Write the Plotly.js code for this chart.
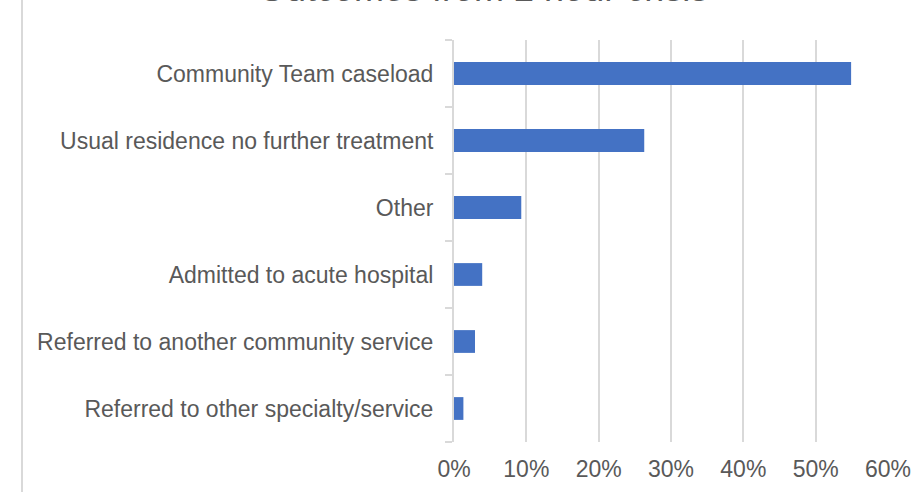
<!DOCTYPE html>
<html>
<head>
<meta charset="utf-8">
<script src="https://cdn.plot.ly/plotly-3.0.1.min.js"></script>
<style>html,body{margin:0;padding:0;background:#fff;}#chart{width:917px;height:492px;}</style>
</head>
<body>
<div id="chart"></div>
<script>
const chartTitle = "Outcomes from 2 hour crisis";
const categories = [
  "Referred to other specialty/service",
  "Referred to another community service",
  "Admitted to acute hospital",
  "Other",
  "Usual residence no further treatment",
  "Community Team caseload"
];
const shares = [0.013, 0.029, 0.039, 0.093, 0.263, 0.549];
const xTickValues = [0, 0.1, 0.2, 0.3, 0.4, 0.5, 0.6];
const xTickLabels = ["0%", "10%", "20%", "30%", "40%", "50%", "60%"];

const font = "Liberation Sans, Arial, sans-serif";
const textColor = "#595959";

const trace = {
  type: "bar",
  orientation: "h",
  y: categories,
  x: shares,
  marker: {color: "#4472C4", line: {color: "#4472C4", width: 0}},
  hoverinfo: "skip"
};

const layout = {
  width: 917,
  height: 492,
  margin: {l: 454, r: 29, t: 40, b: 50, pad: 0},
  paper_bgcolor: "#ffffff",
  plot_bgcolor: "#ffffff",
  bargap: 0.66,
  showlegend: false,
  font: {family: font, color: textColor, size: 23},
  xaxis: {
    range: [0, 0.6],
    tickvals: xTickValues,
    ticktext: xTickLabels,
    showgrid: true,
    gridcolor: "#d9d9d9",
    gridwidth: 2,
    zeroline: false,
    showline: false,
    ticks: "",
    ticklabelstandoff: 11,
    tickfont: {family: font, color: textColor, size: 23},
    fixedrange: true
  },
  yaxis: {
    type: "category",
    showline: true,
    linecolor: "#d9d9d9",
    linewidth: 2,
    ticks: "outside",
    tickson: "boundaries",
    ticklen: 7,
    tickwidth: 2,
    tickcolor: "#d9d9d9",
    ticklabelstandoff: 14,
    showgrid: false,
    zeroline: false,
    tickfont: {family: font, color: textColor, size: 23},
    fixedrange: true
  },
  annotations: [{
    text: chartTitle,
    xref: "paper", yref: "paper",
    x: (482.5 - 454) / 434, y: (442 + 11.8) / 402,
    xanchor: "center", yanchor: "middle",
    showarrow: false,
    font: {family: font, color: textColor, size: 36}
  }],
  shapes: [{
    type: "line",
    xref: "paper", yref: "paper",
    x0: (22 - 454) / 434, x1: (22 - 454) / 434,
    y0: -0.2, y1: 1.2,
    line: {color: "#d9d9d9", width: 2}
  }]
};

Plotly.newPlot("chart", [trace], layout, {displayModeBar: false, staticPlot: true});
</script>
</body>
</html>
